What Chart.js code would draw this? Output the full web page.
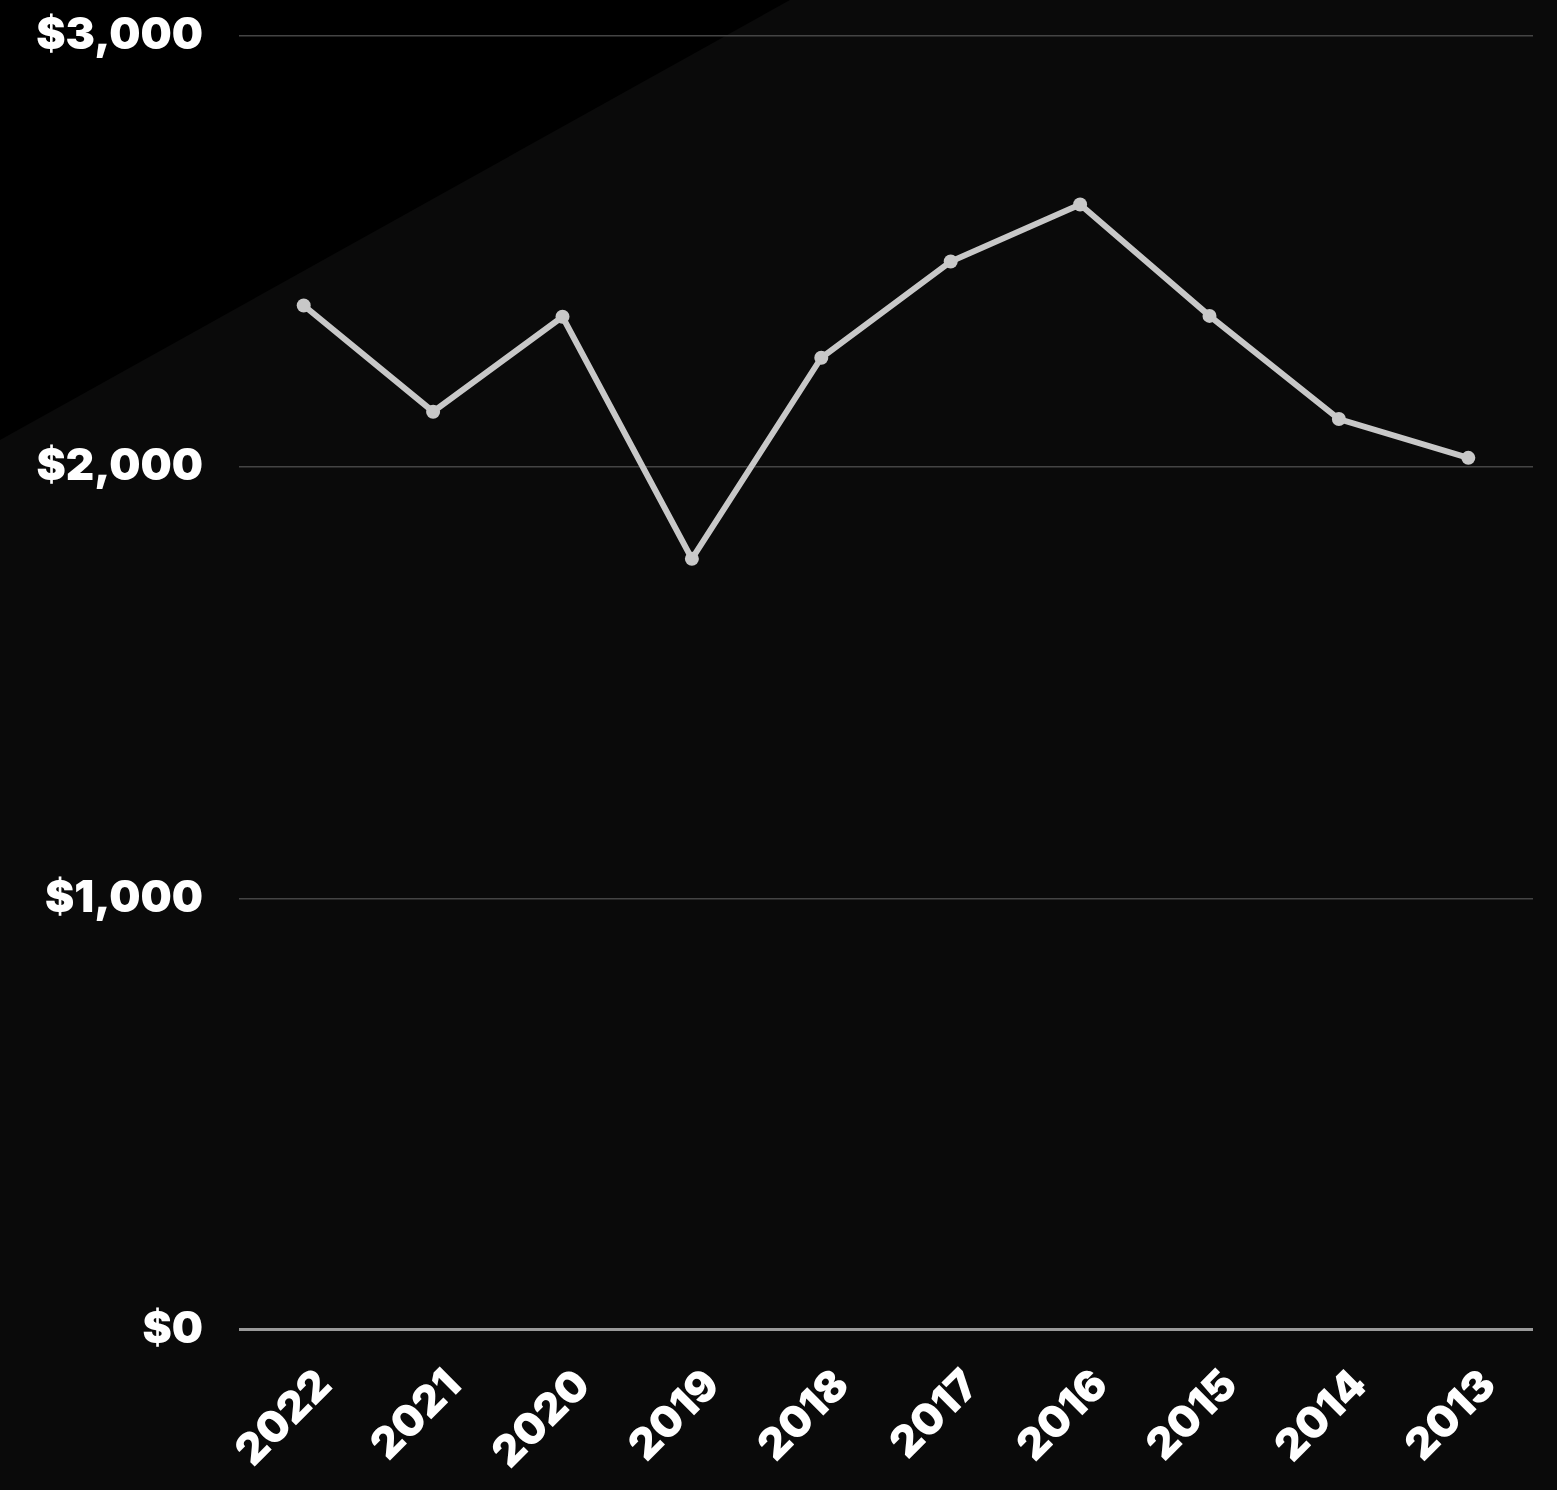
<!DOCTYPE html>
<html>
<head>
<meta charset="utf-8">
<script src="https://cdn.jsdelivr.net/npm/chart.js@4.4.0/dist/chart.umd.min.js"></script>
<style>
  html, body { margin: 0; padding: 0; background: #0a0a0a; }
  #wrap { position: relative; width: 1557px; height: 1490px; overflow: hidden; }
  #corner {
    position: absolute; left: 0; top: 0; width: 1557px; height: 1490px;
    background: #000;
    clip-path: polygon(0 0, 790px 0, 0 440px);
  }
  #myChart { position: absolute; left: 0; top: -27px; }
</style>
</head>
<body>
<div id="wrap">
  <div id="corner"></div>
  <canvas id="myChart" width="1557" height="1536"></canvas>
</div>
<script>
var years = ['2022', '2021', '2020', '2019', '2018', '2017', '2016', '2015', '2014', '2013'];
var costs = [2374, 2128, 2348, 1787, 2253, 2476, 2608, 2350, 2111, 2021];
var yTicks = [0, 1000, 2000, 3000];

var font = "'Inter', 'Lato', sans-serif";

var ctx = document.getElementById('myChart');
var myChart = new Chart(ctx, {
    type: 'line',
    data: {
        labels: years,
        datasets: [{
            label: 'Cost',
            data: costs,
            borderColor: '#c8c8c8',
            backgroundColor: '#c8c8c8',
            borderWidth: 6,
            pointRadius: 7,
            pointBackgroundColor: '#c8c8c8',
            pointBorderWidth: 0,
            tension: 0
        }]
    },
    options: {
        responsive: false,
        animation: false,
        layout: { padding: { top: 0, right: 24, bottom: 0, left: 0 } },
        plugins: {
            legend: { display: false },
            tooltip: { enabled: false }
        },
        scales: {
            x: {
                offset: true,
                grid: { display: false, drawTicks: false },
                border: { display: false },
                ticks: {
                    color: '#ffffff',
                    font: { family: font, size: 43, weight: 900 },
                    maxRotation: 45,
                    minRotation: 45,
                    padding: 30,
                    labelOffset: 21
                }
            },
            y: {
                min: 0,
                max: 3000,
                afterBuildTicks: function (axis) {
                    axis.ticks = yTicks.map(function (v) { return { value: v }; });
                },
                afterFit: function (axis) { axis.width = 239; },
                grid: {
                    color: function (c) { return c.tick.value === 0 ? '#9a9a9a' : '#444444'; },
                    lineWidth: function (c) { return c.tick.value === 0 ? 3 : 1.5; },
                    drawTicks: false
                },
                border: { display: false },
                ticks: {
                    color: '#ffffff',
                    font: { family: font, size: 44, weight: 900 },
                    padding: 36,
                    callback: function (v) { return '$' + v.toLocaleString('en-US'); }
                }
            }
        }
    }
});
</script>
</body>
</html>
